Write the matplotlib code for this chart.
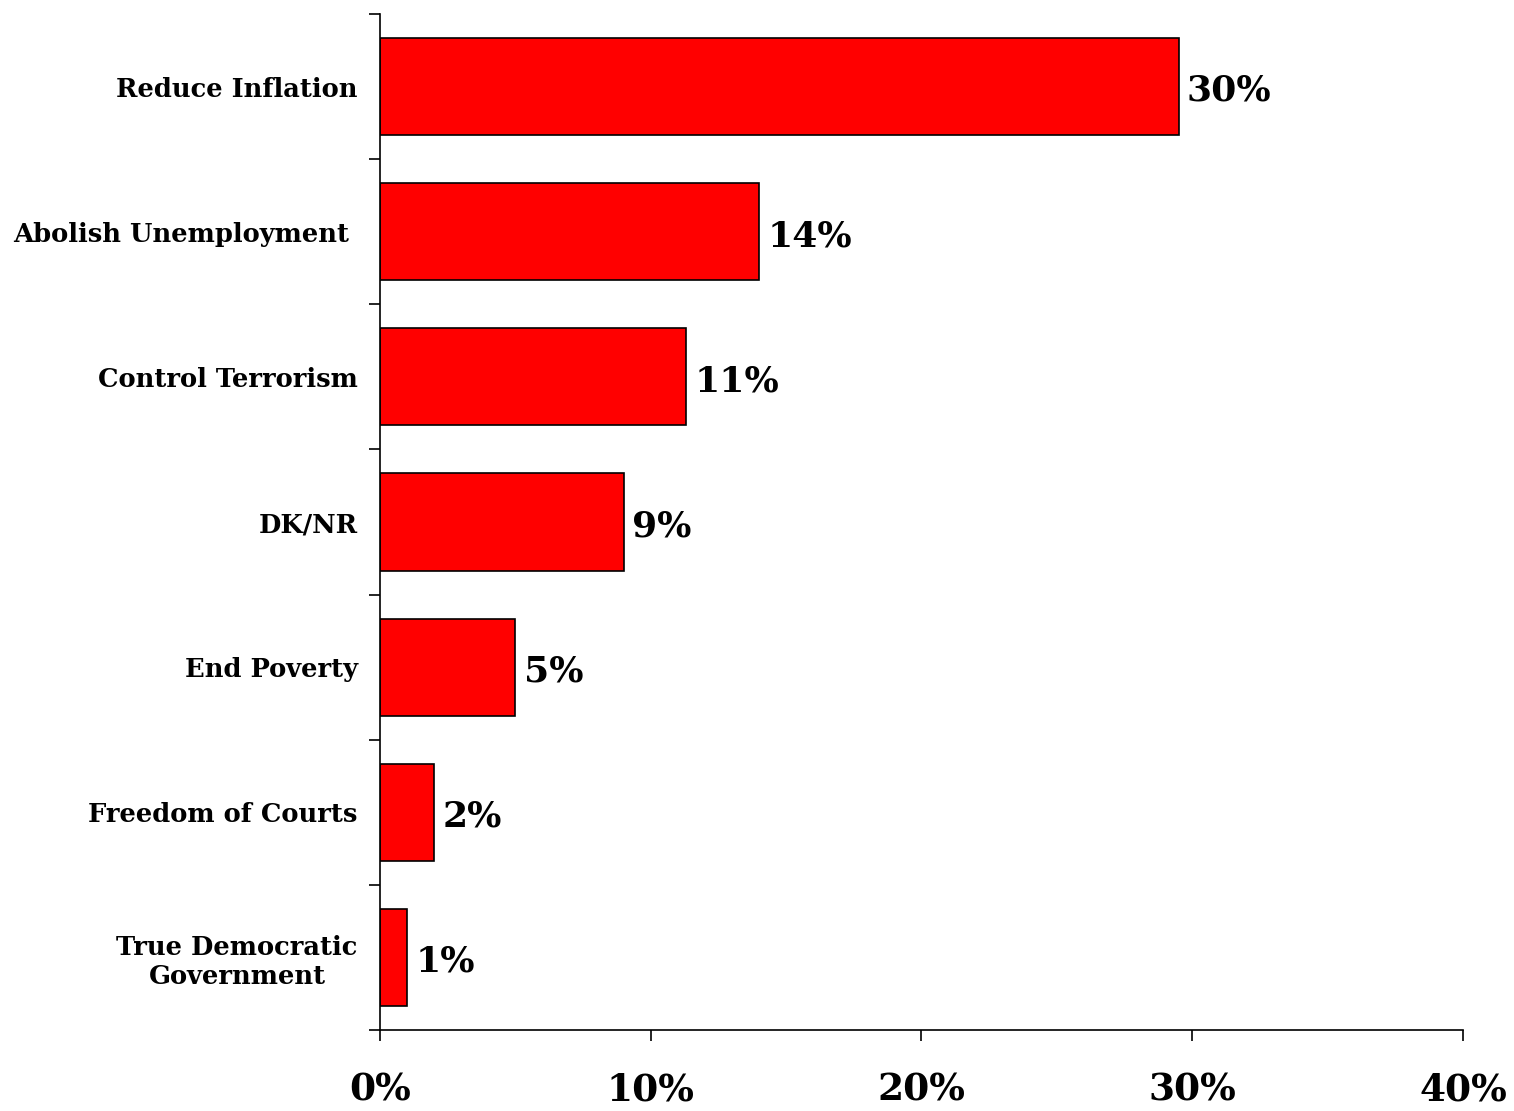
import numpy as np
import matplotlib
matplotlib.use("Agg")
import matplotlib.pyplot as plt

categories = ["Reduce Inflation", "Abolish Unemployment ", "Control Terrorism", "DK/NR",
              "End Poverty", "Freedom of Courts", "True Democratic\nGovernment"]
values = [29.5, 14.0, 11.3, 9.0, 5.0, 2.0, 1.0]
value_labels = ["30%", "14%", "11%", "9%", "5%", "2%", "1%"]
x_ticks = [0, 10, 20, 30, 40]
x_tick_labels = ["0%", "10%", "20%", "30%", "40%"]

font = ["DejaVu Serif"]

fig = plt.figure(figsize=(15.14, 11.11), dpi=100)
ax = fig.add_axes([0.251, 0.0729, 0.7153, 0.9145])

y = np.arange(len(categories))
ax.barh(y, values, height=0.67, color="#ff0000", edgecolor="black", linewidth=1.2)

for yi, v, lab in zip(y, values, value_labels):
    ax.text(v + 0.3, yi + 0.03, lab, va="center", ha="left", fontsize=26,
            fontweight="bold", family=font)

ax.set_ylim(len(categories) - 0.5, -0.5)
ax.set_xlim(0, 40)

# ticks between categories, labels centred on bars
ax.set_yticks(np.arange(-0.5, len(categories), 1.0))
ax.set_yticklabels([])
ax.set_yticks(y, minor=True)
ax.set_yticklabels(categories, minor=True, fontsize=18.5, fontweight="bold",
                   family=font, multialignment="center")
ax.tick_params(axis="y", which="minor", length=0, pad=16)
ax.tick_params(axis="y", which="major", length=8, width=1.2, direction="out")

ax.set_xticks(x_ticks)
ax.set_xticklabels(x_tick_labels, fontsize=27, fontweight="bold", family=font)
ax.tick_params(axis="x", length=8, width=1.2, direction="out", pad=22)

ax.spines["top"].set_visible(False)
ax.spines["right"].set_visible(False)
ax.spines["left"].set_linewidth(1.2)
ax.spines["bottom"].set_linewidth(1.2)

fig.savefig("out.png", dpi=100)
